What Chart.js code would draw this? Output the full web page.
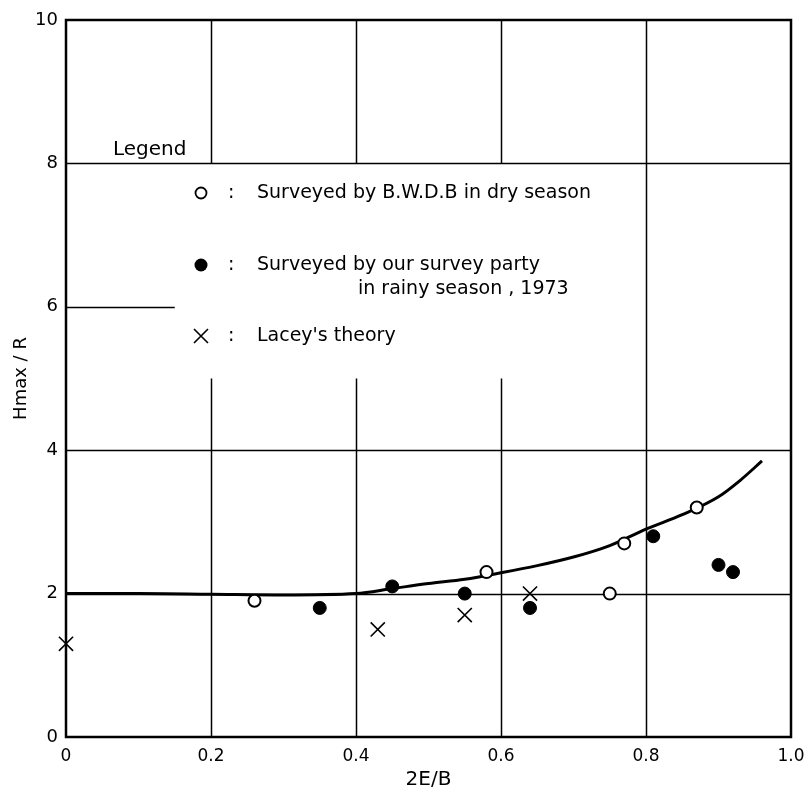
<!DOCTYPE html>
<html>
<head>
<meta charset="utf-8">
<script src="https://cdn.jsdelivr.net/npm/chart.js@4/dist/chart.umd.min.js"></script>
<style>
  html, body { margin: 0; padding: 0; background: #fff; }
  #wrap { width: 809px; height: 792px; position: relative; }
</style>
</head>
<body>
<div id="wrap"><canvas id="c"></canvas></div>
<script>
// Axis ticks
const xTicks = [0, 0.2, 0.4, 0.6, 0.8, 1.0];
const yTicks = [0, 2, 4, 6, 8, 10];

// Surveyed by B.W.D.B in dry season (open circles)
const dryX = [0.26, 0.58, 0.75, 0.77, 0.87];
const dryY = [1.9, 2.3, 2.0, 2.7, 3.2];

// Surveyed by our survey party in rainy season, 1973 (filled circles)
const rainyX = [0.35, 0.45, 0.55, 0.64, 0.81, 0.90, 0.92];
const rainyY = [1.8, 2.1, 2.0, 1.8, 2.8, 2.4, 2.3];

// Lacey's theory (crosses)
const laceyX = [0, 0.43, 0.55, 0.64];
const laceyY = [1.3, 1.5, 1.7, 2.0];

// Fitted curve
const curveX = [0, 0.1, 0.2, 0.3, 0.4, 0.45, 0.5, 0.55, 0.6, 0.65, 0.7, 0.75, 0.8, 0.85, 0.9, 0.93, 0.96];
const curveY = [2.0, 2.0, 1.99, 1.98, 2.0, 2.07, 2.14, 2.2, 2.29, 2.39, 2.51, 2.67, 2.9, 3.1, 3.35, 3.58, 3.85];

// Grid segments: vertical [x, yFrom, yTo], horizontal [y, xFrom, xTo]
const gridV = [[0.2, 0, 5], [0.2, 8, 10], [0.4, 0, 5], [0.4, 8, 10], [0.6, 0, 5], [0.6, 8, 10], [0.8, 0, 10]];
const gridH = [[2, 0, 1], [4, 0, 1], [6, 0, 0.15], [8, 0, 1]];

const FONT = '"DejaVu Sans", "Liberation Sans", sans-serif';

const pts = (xs, ys) => xs.map((x, i) => ({ x, y: ys[i] }));

const gridPlugin = {
  id: 'segGrid',
  beforeDatasetsDraw(chart) {
    const { ctx, scales: { x, y }, chartArea: a } = chart;
    ctx.save();
    ctx.strokeStyle = '#000';
    ctx.lineWidth = 1.5;
    ctx.beginPath();
    gridV.forEach(([v, y0, y1]) => {
      const px = Math.round(x.getPixelForValue(v)) + 0.5;
      ctx.moveTo(px, y.getPixelForValue(y0));
      ctx.lineTo(px, y.getPixelForValue(y1));
    });
    gridH.forEach(([v, x0, x1]) => {
      const py = Math.round(y.getPixelForValue(v)) + 0.5;
      ctx.moveTo(x.getPixelForValue(x0), py);
      ctx.lineTo(x.getPixelForValue(x1), py);
    });
    ctx.stroke();
    // frame
    ctx.lineWidth = 2.5;
    ctx.strokeRect(a.left, a.top, a.right - a.left, a.bottom - a.top);
    ctx.restore();
  }
};

const legendPlugin = {
  id: 'boxLegend',
  afterDraw(chart) {
    const { ctx, chartArea: a } = chart;
    const L = a.left, T = a.top;
    ctx.save();
    ctx.fillStyle = '#000';
    ctx.strokeStyle = '#000';
    ctx.textBaseline = 'middle';
    ctx.textAlign = 'left';
    ctx.font = '20px ' + FONT;
    ctx.fillText('Legend', L + 47, T + 130);

    ctx.font = '19px ' + FONT;
    const mx = L + 135, cx = L + 162, tx = L + 191;
    // row 1: open circle
    let ry = T + 173;
    ctx.lineWidth = 1.8;
    ctx.beginPath(); ctx.arc(mx, ry, 5.5, 0, Math.PI * 2); ctx.stroke();
    ctx.fillText(':', cx, ry);
    ctx.fillText('Surveyed by B.W.D.B in dry season', tx, ry);

    // row 2: filled circle
    ry = T + 245;
    ctx.beginPath(); ctx.arc(mx, ry, 6.5, 0, Math.PI * 2); ctx.fill();
    ctx.fillText(':', cx, ry);
    ctx.fillText('Surveyed by our survey party', tx, ry);
    ctx.fillText('in rainy season , 1973', L + 292, ry + 24);

    // row 3: cross
    ry = T + 316;
    const d = 7;
    ctx.lineWidth = 1.6;
    ctx.beginPath();
    ctx.moveTo(mx - d, ry - d); ctx.lineTo(mx + d, ry + d);
    ctx.moveTo(mx + d, ry - d); ctx.lineTo(mx - d, ry + d);
    ctx.stroke();
    ctx.fillText(':', cx, ry);
    ctx.fillText("Lacey's theory", tx, ry);
    ctx.restore();
  }
};

new Chart(document.getElementById('c'), {
  type: 'scatter',
  data: {
    datasets: [
      {
        label: 'Curve',
        data: pts(curveX, curveY),
        showLine: true,
        borderColor: '#000',
        borderWidth: 3,
        pointRadius: 0,
        cubicInterpolationMode: 'monotone',
        fill: false,
        order: 3
      },
      {
        label: 'Surveyed by B.W.D.B in dry season',
        data: pts(dryX, dryY),
        pointStyle: 'circle',
        pointRadius: 6,
        pointBorderWidth: 2,
        pointBackgroundColor: '#fff',
        pointBorderColor: '#000',
        clip: false,
        order: 1
      },
      {
        label: 'Surveyed by our survey party in rainy season, 1973',
        data: pts(rainyX, rainyY),
        pointStyle: 'circle',
        pointRadius: 6.5,
        pointBorderWidth: 1,
        pointBackgroundColor: '#000',
        pointBorderColor: '#000',
        clip: false,
        order: 1
      },
      {
        label: "Lacey's theory",
        data: pts(laceyX, laceyY),
        pointStyle: 'crossRot',
        pointRadius: 10,
        pointBorderWidth: 1.6,
        pointBorderColor: '#000',
        clip: false,
        order: 1
      }
    ]
  },
  options: {
    responsive: true,
    maintainAspectRatio: false,
    animation: false,
    layout: { padding: { left: 0, top: 20, right: 18, bottom: 0 } },
    plugins: {
      legend: { display: false },
      tooltip: { enabled: false }
    },
    scales: {
      x: {
        type: 'linear',
        min: 0,
        max: 1,
        afterBuildTicks: s => { s.ticks = xTicks.map(v => ({ value: v })); },
        afterFit: s => { s.height = 55; s.paddingLeft = 0; s.paddingRight = 0; },
        grid: { display: false, drawTicks: false },
        border: { display: false },
        ticks: {
          padding: 9,
          color: '#000',
          font: { family: FONT, size: 17 },
          callback: v => (v === 0 ? '0' : v.toFixed(1))
        },
        title: {
          display: true,
          text: '2E/B',
          color: '#000',
          font: { family: FONT, size: 20 },
          padding: { top: 0, bottom: 0 }
        }
      },
      y: {
        type: 'linear',
        min: 0,
        max: 10,
        afterBuildTicks: s => { s.ticks = yTicks.map(v => ({ value: v })); },
        afterFit: s => { s.width = 66; s.paddingTop = 0; s.paddingBottom = 0; },
        grid: { display: false, drawTicks: false },
        border: { display: false },
        ticks: {
          padding: 8,
          color: '#000',
          font: { family: FONT, size: 18 }
        },
        title: {
          display: true,
          text: 'Hmax / R',
          color: '#000',
          font: { family: FONT, size: 18 },
          padding: { top: 11, bottom: 0 }
        }
      }
    }
  },
  plugins: [gridPlugin, legendPlugin]
});
</script>
</body>
</html>
